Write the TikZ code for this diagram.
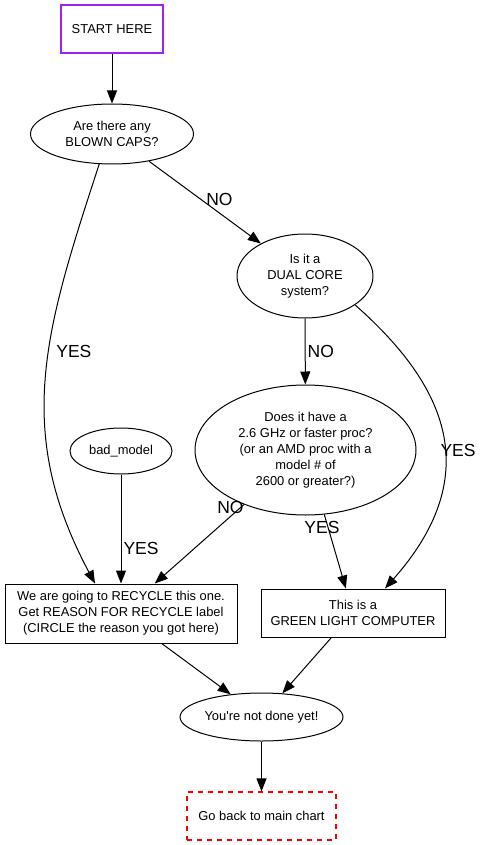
\documentclass[tikz,border=0pt]{standalone}
\usepackage{fontspec}
\setmainfont{Liberation Sans}
\usetikzlibrary{arrows.meta, positioning, shapes.geometric}
\definecolor{startpurple}{RGB}{160,32,240}
\definecolor{backred}{RGB}{255,0,0}

\begin{document}
\begin{tikzpicture}[x=1pt, y=-1pt, >={Triangle[length=13pt,width=10pt]}, line width=1pt,
    font=\fontsize{12.9}{16}\selectfont,
    question/.style={draw, ellipse, inner sep=0pt, align=center},
    result/.style={draw, rectangle, inner sep=0pt, align=center},
    lbl/.style={font=\fontsize{17.5}{20}\selectfont, inner sep=0pt}]
    \useasboundingbox (0,0) rectangle (483,845);
    % nodes
    \node[result, draw=startpurple, line width=2pt, minimum width=102pt, minimum height=48pt]
        (start) at (112,29) {START HERE};
    \node[question, minimum width=163pt, minimum height=60pt] (blown) at (112,134)
        {Are there any\\BLOWN CAPS?};
    \node[question, minimum width=136pt, minimum height=84pt] (dual) at (305,276)
        {Is it a\\DUAL CORE\\system?};
    \node[question, minimum width=221pt, minimum height=130pt] (does) at (305.5,450)
        {Does it have a\\2.6 GHz or faster proc?\\(or an AMD proc with a\\model \# of\\2600 or greater?)};
    \node[question, minimum width=102pt, minimum height=46pt] (bad) at (121,451) {bad\_model};
    \node[result, minimum width=232pt, minimum height=59pt] (recycle) at (121,613.5)
        {We are going to RECYCLE this one.\\Get REASON FOR RECYCLE label\\(CIRCLE the reason you got here)};
    \node[result, minimum width=184pt, minimum height=48pt] (green) at (353,613)
        {This is a\\GREEN LIGHT COMPUTER};
    \node[question, minimum width=163pt, minimum height=48pt] (notdone) at (261.5,717)
        {You\textquotesingle re not done yet!};
    \node[result, draw=backred, line width=1.2pt, dash pattern=on 5pt off 5pt,
        minimum width=149pt, minimum height=48pt] (goback) at (261.5,816) {Go back to main chart};
    % edges
    \draw[->] (start) -- (blown);
    \draw[->] (blown) -- (dual) node[lbl, pos=0.63, above=7pt] {NO};
    \draw[->] (blown.247) .. controls (45,330) and (13,430) .. ([xshift=-26pt]recycle.north)
        node[lbl, pos=0.43, right=7pt] {YES};
    \draw[->] (dual) -- (does) node[lbl, midway, right=2pt] {NO};
    \draw[->] (dual.330) .. controls (440,380) and (490,470) .. ([xshift=32pt]green.north)
        node[lbl, pos=0.57, anchor=west, xshift=-4pt] {YES};
    \draw[->] (bad) -- (recycle) node[lbl, pos=0.68, right=2pt] {YES};
    \draw[->] (does) -- (recycle) node[lbl, pos=0.04, xshift=-10pt] {NO};
    \draw[->] (does) -- (green) node[lbl, pos=0.17, xshift=-6pt] {YES};
    \draw[->] (recycle) -- (notdone);
    \draw[->] (green) -- (notdone);
    \draw[->] (notdone) -- (goback);
\end{tikzpicture}
\end{document}
